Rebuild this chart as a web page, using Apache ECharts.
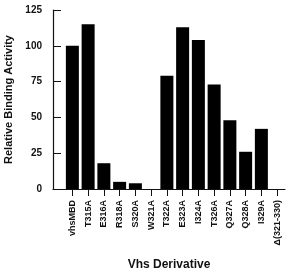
<!DOCTYPE html>
<html>
<head>
<meta charset="utf-8">
<script src="https://cdn.jsdelivr.net/npm/echarts@6/dist/echarts.min.js"></script>
<style>
  html, body { margin: 0; padding: 0; background: #fff; }
  #chart { width: 286px; height: 270px; }
</style>
</head>
<body>
<div id="chart"></div>
<script>
// derivatives along the x axis
const categories = ['vhsMBD', 'T315A', 'E316A', 'R318A', 'S320A', 'W321A', 'T322A',
  'E323A', 'I324A', 'T326A', 'Q327A', 'Q328A', 'I329A', 'Δ(321-330)'];
// relative binding activity
const activity = [100, 115, 18, 5, 4, 0, 79, 113, 104, 73, 48, 26, 42, 0];
const yTicks = [0, 25, 50, 75, 100, 125];

const font = 'Liberation Sans, Arial, sans-serif';
const myChart = echarts.init(document.getElementById('chart'), null, { renderer: 'canvas' });

const option = {
  backgroundColor: '#fff',
  animation: false,
  grid: [
    // axis frame
    { left: 53, right: 1, top: 10, bottom: 81, outerBoundsMode: 'none', containLabel: false },
    // bars
    { left: 64.5, right: 1, top: 10, bottom: 81, outerBoundsMode: 'none', containLabel: false }
  ],
  xAxis: [
    {
      gridIndex: 0,
      type: 'value',
      min: 0,
      max: 1,
      name: 'Vhs Derivative',
      nameLocation: 'middle',
      nameGap: 70,
      nameTextStyle: { fontFamily: font, fontWeight: 'bold', fontSize: 12, color: '#111' },
      axisLine: { show: true, lineStyle: { color: '#111', width: 1.2 } },
      axisTick: { show: false },
      axisLabel: { show: false },
      splitLine: { show: false }
    },
    {
      gridIndex: 1,
      type: 'category',
      data: categories,
      axisLine: { show: false },
      axisTick: { show: true, alignWithLabel: true, length: 7, lineStyle: { color: '#111' } },
      axisLabel: {
        rotate: 90,
        interval: 0,
        margin: 11,
        fontFamily: font,
        fontWeight: 'bold',
        fontSize: 9,
        color: '#111'
      },
      splitLine: { show: false }
    }
  ],
  yAxis: [
    {
      gridIndex: 0,
      type: 'value',
      min: yTicks[0],
      max: yTicks[yTicks.length - 1],
      interval: 25,
      name: 'Relative Binding Activity',
      nameLocation: 'middle',
      nameGap: 38,
      nameTextStyle: { fontFamily: font, fontWeight: 'bold', fontSize: 11, color: '#111' },
      axisLine: { show: true, lineStyle: { color: '#111', width: 1.2 } },
      axisTick: { show: true, inside: true, length: 8, lineStyle: { color: '#111' } },
      axisLabel: { margin: 11, fontFamily: font, fontWeight: 'bold', fontSize: 10, color: '#111' },
      splitLine: { show: false }
    },
    {
      gridIndex: 1,
      type: 'value',
      min: 0,
      max: 125,
      show: false
    }
  ],
  series: [
    {
      type: 'bar',
      xAxisIndex: 1,
      yAxisIndex: 1,
      data: activity,
      barWidth: 13,
      itemStyle: { color: '#000' }
    }
  ]
};
myChart.setOption(option, true);
</script>
</body>
</html>
